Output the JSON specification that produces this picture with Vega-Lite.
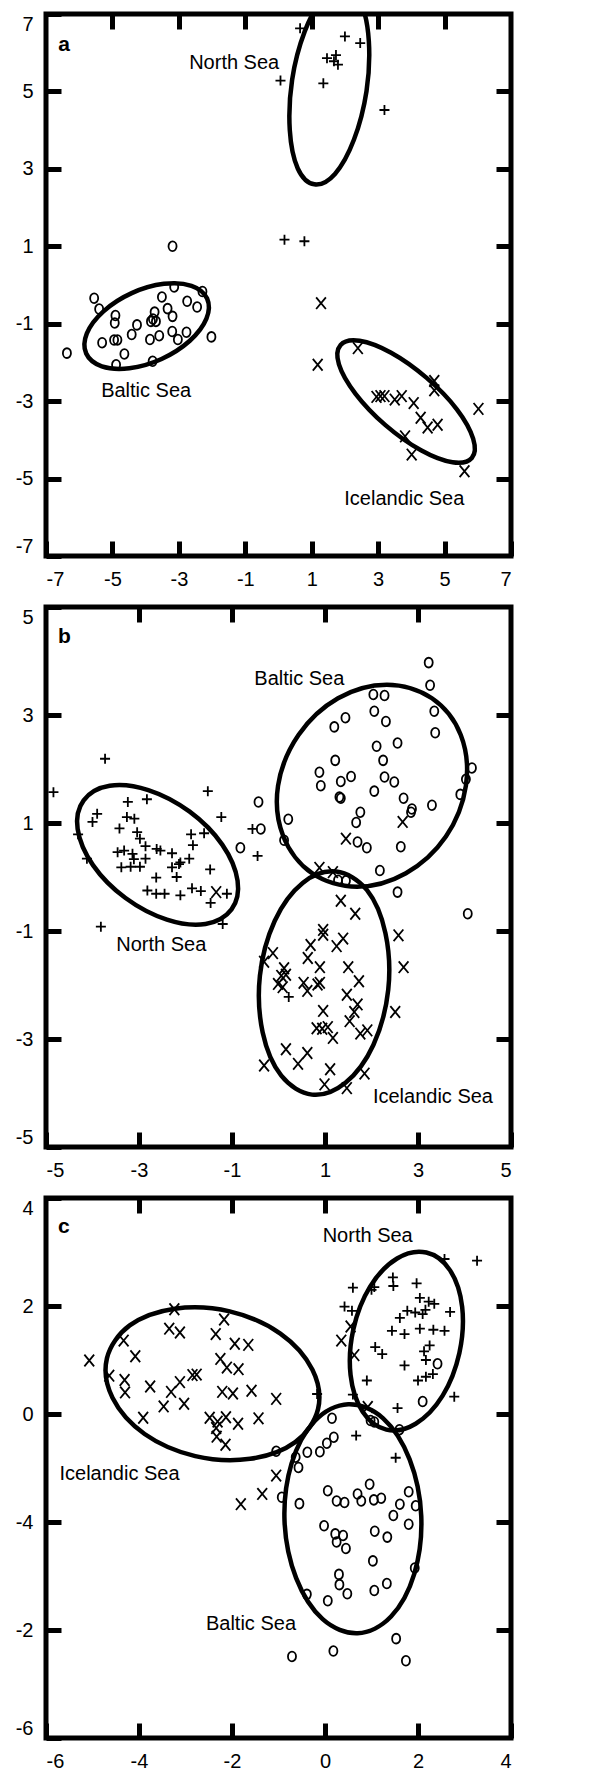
{
"$schema":"https://vega.github.io/schema/vega-lite/v6.json",
"padding":{"left":12,"top":9,"right":10,"bottom":4},
"spacing":51,
"bounds":"flush",
"config":{"view":{"stroke":"black","strokeWidth":5},
"axis":{"domain":false,"grid":false,"labelFont":"Liberation Sans","labelFontSize":20,"labelColor":"black","tickColor":"black","tickWidth":5,"tickSize":-15,"labelPadding":28,"labelFlush":true,"labelOverlap":false}},
"datasets":{
"pts":[
{"p":"a","s":"N","x":0.65,"y":6.63},{"p":"a","s":"N","x":2.0,"y":6.42},{"p":"a","s":"N","x":2.46,"y":6.25},{"p":"a","s":"N","x":1.46,"y":5.86},{"p":"a","s":"N","x":1.73,"y":5.94},{"p":"a","s":"N","x":1.79,"y":5.69},{"p":"a","s":"N","x":1.67,"y":5.78},{"p":"a","s":"N","x":0.06,"y":5.28},{"p":"a","s":"N","x":1.35,"y":5.21},{"p":"a","s":"N","x":3.19,"y":4.52},{"p":"a","s":"N","x":0.18,"y":1.17},{"p":"a","s":"N","x":0.78,"y":1.13},
{"p":"a","s":"B","x":-3.19,"y":1.0},{"p":"a","s":"B","x":-5.55,"y":-0.34},{"p":"a","s":"B","x":-5.4,"y":-0.62},{"p":"a","s":"B","x":-3.14,"y":-0.05},{"p":"a","s":"B","x":-3.51,"y":-0.31},{"p":"a","s":"B","x":-2.29,"y":-0.17},{"p":"a","s":"B","x":-2.75,"y":-0.42},{"p":"a","s":"B","x":-2.45,"y":-0.57},{"p":"a","s":"B","x":-3.34,"y":-0.61},{"p":"a","s":"B","x":-3.19,"y":-0.81},{"p":"a","s":"B","x":-3.73,"y":-0.7},{"p":"a","s":"B","x":-3.78,"y":-0.88},{"p":"a","s":"B","x":-3.69,"y":-0.94},{"p":"a","s":"B","x":-3.84,"y":-0.94},{"p":"a","s":"B","x":-4.91,"y":-0.79},{"p":"a","s":"B","x":-4.93,"y":-0.98},{"p":"a","s":"B","x":-4.26,"y":-1.03},{"p":"a","s":"B","x":-4.42,"y":-1.28},{"p":"a","s":"B","x":-3.59,"y":-1.31},{"p":"a","s":"B","x":-3.2,"y":-1.2},{"p":"a","s":"B","x":-2.77,"y":-1.22},{"p":"a","s":"B","x":-3.03,"y":-1.41},{"p":"a","s":"B","x":-2.02,"y":-1.34},{"p":"a","s":"B","x":-3.87,"y":-1.41},{"p":"a","s":"B","x":-5.31,"y":-1.49},{"p":"a","s":"B","x":-4.95,"y":-1.42},{"p":"a","s":"B","x":-4.85,"y":-1.42},{"p":"a","s":"B","x":-6.37,"y":-1.76},{"p":"a","s":"B","x":-4.64,"y":-1.78},{"p":"a","s":"B","x":-4.89,"y":-2.06},{"p":"a","s":"B","x":-3.79,"y":-1.97},
{"p":"a","s":"I","x":1.28,"y":-0.47},{"p":"a","s":"I","x":1.18,"y":-2.06},{"p":"a","s":"I","x":2.39,"y":-1.63},{"p":"a","s":"I","x":2.95,"y":-2.89},{"p":"a","s":"I","x":3.07,"y":-2.87},{"p":"a","s":"I","x":3.19,"y":-2.87},{"p":"a","s":"I","x":3.5,"y":-2.96},{"p":"a","s":"I","x":3.71,"y":-2.87},{"p":"a","s":"I","x":4.07,"y":-3.05},{"p":"a","s":"I","x":4.69,"y":-2.48},{"p":"a","s":"I","x":4.69,"y":-2.72},{"p":"a","s":"I","x":6.02,"y":-3.2},{"p":"a","s":"I","x":4.28,"y":-3.43},{"p":"a","s":"I","x":4.49,"y":-3.68},{"p":"a","s":"I","x":4.79,"y":-3.61},{"p":"a","s":"I","x":3.81,"y":-3.91},{"p":"a","s":"I","x":4.01,"y":-4.38},{"p":"a","s":"I","x":5.6,"y":-4.81},
{"p":"b","s":"N","x":-3.73,"y":2.19},{"p":"b","s":"N","x":-4.84,"y":1.57},{"p":"b","s":"N","x":-1.52,"y":1.59},{"p":"b","s":"N","x":-3.24,"y":1.39},{"p":"b","s":"N","x":-2.83,"y":1.44},{"p":"b","s":"N","x":-3.9,"y":1.17},{"p":"b","s":"N","x":-4.0,"y":1.02},{"p":"b","s":"N","x":-3.26,"y":1.11},{"p":"b","s":"N","x":-3.1,"y":1.08},{"p":"b","s":"N","x":-1.23,"y":1.11},{"p":"b","s":"N","x":-3.42,"y":0.9},{"p":"b","s":"N","x":-3.04,"y":0.83},{"p":"b","s":"N","x":-2.98,"y":0.71},{"p":"b","s":"N","x":-4.31,"y":0.79},{"p":"b","s":"N","x":-1.88,"y":0.79},{"p":"b","s":"N","x":-1.6,"y":0.81},{"p":"b","s":"N","x":-0.56,"y":0.89},{"p":"b","s":"N","x":-1.84,"y":0.59},{"p":"b","s":"N","x":-0.45,"y":0.39},{"p":"b","s":"N","x":-2.86,"y":0.57},{"p":"b","s":"N","x":-3.46,"y":0.46},{"p":"b","s":"N","x":-3.32,"y":0.49},{"p":"b","s":"N","x":-3.14,"y":0.43},{"p":"b","s":"N","x":-3.11,"y":0.33},{"p":"b","s":"N","x":-2.86,"y":0.34},{"p":"b","s":"N","x":-2.62,"y":0.52},{"p":"b","s":"N","x":-2.54,"y":0.49},{"p":"b","s":"N","x":-2.29,"y":0.44},{"p":"b","s":"N","x":-1.92,"y":0.34},{"p":"b","s":"N","x":-2.11,"y":0.27},{"p":"b","s":"N","x":-4.12,"y":0.34},{"p":"b","s":"N","x":-3.38,"y":0.18},{"p":"b","s":"N","x":-3.18,"y":0.19},{"p":"b","s":"N","x":-2.98,"y":0.19},{"p":"b","s":"N","x":-2.29,"y":0.18},{"p":"b","s":"N","x":-2.14,"y":0.24},{"p":"b","s":"N","x":-1.47,"y":0.14},{"p":"b","s":"N","x":-2.63,"y":-0.01},{"p":"b","s":"N","x":-2.19,"y":0.0},{"p":"b","s":"N","x":-2.82,"y":-0.25},{"p":"b","s":"N","x":-2.63,"y":-0.31},{"p":"b","s":"N","x":-2.45,"y":-0.31},{"p":"b","s":"N","x":-2.11,"y":-0.34},{"p":"b","s":"N","x":-1.86,"y":-0.21},{"p":"b","s":"N","x":-1.67,"y":-0.26},{"p":"b","s":"N","x":-1.11,"y":-0.31},{"p":"b","s":"N","x":-1.46,"y":-0.48},{"p":"b","s":"N","x":-3.82,"y":-0.92},{"p":"b","s":"N","x":-1.2,"y":-0.87},{"p":"b","s":"N","x":0.22,"y":-2.22},
{"p":"b","s":"B","x":3.23,"y":3.97},{"p":"b","s":"B","x":3.26,"y":3.55},{"p":"b","s":"B","x":2.04,"y":3.38},{"p":"b","s":"B","x":2.28,"y":3.36},{"p":"b","s":"B","x":2.06,"y":3.07},{"p":"b","s":"B","x":2.31,"y":2.88},{"p":"b","s":"B","x":3.35,"y":3.07},{"p":"b","s":"B","x":3.37,"y":2.67},{"p":"b","s":"B","x":1.2,"y":2.78},{"p":"b","s":"B","x":1.44,"y":2.95},{"p":"b","s":"B","x":2.11,"y":2.42},{"p":"b","s":"B","x":2.56,"y":2.48},{"p":"b","s":"B","x":1.22,"y":2.16},{"p":"b","s":"B","x":2.25,"y":2.16},{"p":"b","s":"B","x":0.88,"y":1.94},{"p":"b","s":"B","x":0.91,"y":1.69},{"p":"b","s":"B","x":1.34,"y":1.77},{"p":"b","s":"B","x":1.56,"y":1.86},{"p":"b","s":"B","x":1.31,"y":1.48},{"p":"b","s":"B","x":1.34,"y":1.46},{"p":"b","s":"B","x":2.06,"y":1.59},{"p":"b","s":"B","x":2.28,"y":1.85},{"p":"b","s":"B","x":2.49,"y":1.76},{"p":"b","s":"B","x":2.69,"y":1.46},{"p":"b","s":"B","x":2.87,"y":1.26},{"p":"b","s":"B","x":2.85,"y":1.2},{"p":"b","s":"B","x":3.3,"y":1.33},{"p":"b","s":"B","x":4.16,"y":2.02},{"p":"b","s":"B","x":4.03,"y":1.81},{"p":"b","s":"B","x":3.91,"y":1.53},{"p":"b","s":"B","x":1.76,"y":1.2},{"p":"b","s":"B","x":1.67,"y":1.01},{"p":"b","s":"B","x":1.7,"y":0.65},{"p":"b","s":"B","x":1.9,"y":0.54},{"p":"b","s":"B","x":2.63,"y":0.56},{"p":"b","s":"B","x":2.18,"y":0.12},{"p":"b","s":"B","x":0.21,"y":1.07},{"p":"b","s":"B","x":0.12,"y":0.68},{"p":"b","s":"B","x":-0.43,"y":1.39},{"p":"b","s":"B","x":-0.38,"y":0.89},{"p":"b","s":"B","x":-0.82,"y":0.54},{"p":"b","s":"B","x":2.56,"y":-0.28},{"p":"b","s":"B","x":4.07,"y":-0.68},{"p":"b","s":"B","x":1.28,"y":-0.06},{"p":"b","s":"B","x":1.45,"y":-0.07},
{"p":"b","s":"I","x":2.67,"y":1.02},{"p":"b","s":"I","x":1.45,"y":0.71},{"p":"b","s":"I","x":0.88,"y":0.17},{"p":"b","s":"I","x":1.17,"y":0.09},{"p":"b","s":"I","x":1.34,"y":-0.44},{"p":"b","s":"I","x":1.65,"y":-0.68},{"p":"b","s":"I","x":2.58,"y":-1.08},{"p":"b","s":"I","x":2.69,"y":-1.67},{"p":"b","s":"I","x":0.96,"y":-1.07},{"p":"b","s":"I","x":0.96,"y":-0.98},{"p":"b","s":"I","x":1.39,"y":-1.14},{"p":"b","s":"I","x":1.25,"y":-1.28},{"p":"b","s":"I","x":0.69,"y":-1.26},{"p":"b","s":"I","x":0.63,"y":-1.5},{"p":"b","s":"I","x":-0.12,"y":-1.41},{"p":"b","s":"I","x":-0.31,"y":-1.57},{"p":"b","s":"I","x":0.12,"y":-1.69},{"p":"b","s":"I","x":0.06,"y":-1.83},{"p":"b","s":"I","x":0.16,"y":-1.81},{"p":"b","s":"I","x":-0.01,"y":-1.98},{"p":"b","s":"I","x":0.09,"y":-2.04},{"p":"b","s":"I","x":0.54,"y":-1.96},{"p":"b","s":"I","x":0.62,"y":-2.11},{"p":"b","s":"I","x":0.89,"y":-1.67},{"p":"b","s":"I","x":0.84,"y":-1.99},{"p":"b","s":"I","x":0.89,"y":-1.96},{"p":"b","s":"I","x":1.5,"y":-1.67},{"p":"b","s":"I","x":1.73,"y":-1.93},{"p":"b","s":"I","x":1.47,"y":-2.18},{"p":"b","s":"I","x":1.7,"y":-2.36},{"p":"b","s":"I","x":0.96,"y":-2.48},{"p":"b","s":"I","x":0.82,"y":-2.8},{"p":"b","s":"I","x":0.94,"y":-2.81},{"p":"b","s":"I","x":1.06,"y":-2.78},{"p":"b","s":"I","x":1.17,"y":-2.98},{"p":"b","s":"I","x":1.53,"y":-2.67},{"p":"b","s":"I","x":1.63,"y":-2.5},{"p":"b","s":"I","x":1.76,"y":-2.9},{"p":"b","s":"I","x":1.91,"y":-2.84},{"p":"b","s":"I","x":2.51,"y":-2.5},{"p":"b","s":"I","x":0.16,"y":-3.19},{"p":"b","s":"I","x":0.42,"y":-3.46},{"p":"b","s":"I","x":0.62,"y":-3.26},{"p":"b","s":"I","x":-0.31,"y":-3.49},{"p":"b","s":"I","x":1.11,"y":-3.56},{"p":"b","s":"I","x":0.99,"y":-3.84},{"p":"b","s":"I","x":1.47,"y":-3.91},{"p":"b","s":"I","x":1.85,"y":-3.64},{"p":"b","s":"I","x":-1.34,"y":-0.28},
{"p":"c","s":"N","x":3.27,"y":2.84},{"p":"c","s":"N","x":2.57,"y":2.87},{"p":"c","s":"N","x":1.46,"y":2.53},{"p":"c","s":"N","x":1.47,"y":2.37},{"p":"c","s":"N","x":1.97,"y":2.42},{"p":"c","s":"N","x":0.6,"y":2.34},{"p":"c","s":"N","x":1.06,"y":2.35},{"p":"c","s":"N","x":1.0,"y":2.3},{"p":"c","s":"N","x":0.42,"y":1.99},{"p":"c","s":"N","x":0.58,"y":1.91},{"p":"c","s":"N","x":2.04,"y":2.15},{"p":"c","s":"N","x":2.23,"y":2.08},{"p":"c","s":"N","x":2.35,"y":2.04},{"p":"c","s":"N","x":1.77,"y":1.91},{"p":"c","s":"N","x":1.94,"y":1.88},{"p":"c","s":"N","x":2.1,"y":1.85},{"p":"c","s":"N","x":2.16,"y":1.93},{"p":"c","s":"N","x":2.69,"y":1.89},{"p":"c","s":"N","x":1.61,"y":1.78},{"p":"c","s":"N","x":1.44,"y":1.54},{"p":"c","s":"N","x":1.71,"y":1.48},{"p":"c","s":"N","x":2.04,"y":1.58},{"p":"c","s":"N","x":2.33,"y":1.56},{"p":"c","s":"N","x":2.57,"y":1.54},{"p":"c","s":"N","x":1.08,"y":1.24},{"p":"c","s":"N","x":1.23,"y":1.11},{"p":"c","s":"N","x":2.25,"y":1.27},{"p":"c","s":"N","x":2.13,"y":1.16},{"p":"c","s":"N","x":2.17,"y":1.0},{"p":"c","s":"N","x":1.71,"y":0.9},{"p":"c","s":"N","x":0.9,"y":0.62},{"p":"c","s":"N","x":2.0,"y":0.62},{"p":"c","s":"N","x":2.17,"y":0.69},{"p":"c","s":"N","x":2.32,"y":0.74},{"p":"c","s":"N","x":2.78,"y":0.32},{"p":"c","s":"N","x":0.6,"y":0.36},{"p":"c","s":"N","x":1.56,"y":0.11},{"p":"c","s":"N","x":0.67,"y":-0.4},{"p":"c","s":"N","x":1.52,"y":-0.81},{"p":"c","s":"N","x":-0.17,"y":0.37},
{"p":"c","s":"I","x":-5.07,"y":0.99},{"p":"c","s":"I","x":-4.33,"y":1.36},{"p":"c","s":"I","x":-4.08,"y":1.07},{"p":"c","s":"I","x":-4.64,"y":0.71},{"p":"c","s":"I","x":-4.31,"y":0.63},{"p":"c","s":"I","x":-4.3,"y":0.4},{"p":"c","s":"I","x":-3.76,"y":0.51},{"p":"c","s":"I","x":-3.91,"y":-0.07},{"p":"c","s":"I","x":-3.47,"y":0.14},{"p":"c","s":"I","x":-3.31,"y":0.41},{"p":"c","s":"I","x":-3.12,"y":0.59},{"p":"c","s":"I","x":-3.03,"y":0.19},{"p":"c","s":"I","x":-3.24,"y":1.94},{"p":"c","s":"I","x":-3.35,"y":1.58},{"p":"c","s":"I","x":-3.12,"y":1.51},{"p":"c","s":"I","x":-2.35,"y":1.48},{"p":"c","s":"I","x":-2.17,"y":1.75},{"p":"c","s":"I","x":-1.94,"y":1.3},{"p":"c","s":"I","x":-1.65,"y":1.28},{"p":"c","s":"I","x":-2.25,"y":1.02},{"p":"c","s":"I","x":-2.11,"y":0.86},{"p":"c","s":"I","x":-1.86,"y":0.83},{"p":"c","s":"I","x":-2.85,"y":0.72},{"p":"c","s":"I","x":-2.76,"y":0.73},{"p":"c","s":"I","x":-2.21,"y":0.41},{"p":"c","s":"I","x":-1.98,"y":0.38},{"p":"c","s":"I","x":-1.58,"y":0.43},{"p":"c","s":"I","x":-1.05,"y":0.28},{"p":"c","s":"I","x":-2.48,"y":-0.07},{"p":"c","s":"I","x":-2.31,"y":-0.14},{"p":"c","s":"I","x":-2.13,"y":-0.06},{"p":"c","s":"I","x":-1.87,"y":-0.18},{"p":"c","s":"I","x":-1.43,"y":-0.08},{"p":"c","s":"I","x":-2.33,"y":-0.42},{"p":"c","s":"I","x":-2.14,"y":-0.57},{"p":"c","s":"I","x":-2.34,"y":-0.26},{"p":"c","s":"I","x":0.35,"y":1.36},{"p":"c","s":"I","x":0.63,"y":1.09},{"p":"c","s":"I","x":0.55,"y":1.62},{"p":"c","s":"I","x":-1.05,"y":-1.14},{"p":"c","s":"I","x":-1.35,"y":-1.48},{"p":"c","s":"I","x":-1.81,"y":-1.67},{"p":"c","s":"I","x":0.92,"y":0.13},
{"p":"c","s":"B","x":2.42,"y":0.93},{"p":"c","s":"B","x":2.1,"y":0.23},{"p":"c","s":"B","x":0.98,"y":-0.12},{"p":"c","s":"B","x":1.06,"y":-0.15},{"p":"c","s":"B","x":0.15,"y":-0.08},{"p":"c","s":"B","x":1.6,"y":-0.29},{"p":"c","s":"B","x":0.04,"y":-0.54},{"p":"c","s":"B","x":0.19,"y":-0.43},{"p":"c","s":"B","x":-0.11,"y":-0.7},{"p":"c","s":"B","x":-0.38,"y":-0.71},{"p":"c","s":"B","x":-0.63,"y":-0.8},{"p":"c","s":"B","x":-1.05,"y":-0.69},{"p":"c","s":"B","x":-0.57,"y":-0.99},{"p":"c","s":"B","x":-0.93,"y":-1.54},{"p":"c","s":"B","x":-0.55,"y":-1.66},{"p":"c","s":"B","x":0.06,"y":-1.42},{"p":"c","s":"B","x":0.25,"y":-1.61},{"p":"c","s":"B","x":0.42,"y":-1.64},{"p":"c","s":"B","x":0.7,"y":-1.48},{"p":"c","s":"B","x":0.78,"y":-1.61},{"p":"c","s":"B","x":0.96,"y":-1.3},{"p":"c","s":"B","x":1.05,"y":-1.59},{"p":"c","s":"B","x":1.21,"y":-1.56},{"p":"c","s":"B","x":1.8,"y":-1.44},{"p":"c","s":"B","x":1.95,"y":-1.7},{"p":"c","s":"B","x":1.61,"y":-1.67},{"p":"c","s":"B","x":1.47,"y":-1.88},{"p":"c","s":"B","x":1.8,"y":-2.04},{"p":"c","s":"B","x":-0.02,"y":-2.07},{"p":"c","s":"B","x":0.22,"y":-2.22},{"p":"c","s":"B","x":0.39,"y":-2.25},{"p":"c","s":"B","x":0.25,"y":-2.37},{"p":"c","s":"B","x":0.45,"y":-2.49},{"p":"c","s":"B","x":1.07,"y":-2.17},{"p":"c","s":"B","x":1.34,"y":-2.28},{"p":"c","s":"B","x":1.03,"y":-2.72},{"p":"c","s":"B","x":1.93,"y":-2.85},{"p":"c","s":"B","x":0.3,"y":-2.97},{"p":"c","s":"B","x":0.31,"y":-3.16},{"p":"c","s":"B","x":0.48,"y":-3.33},{"p":"c","s":"B","x":1.33,"y":-3.14},{"p":"c","s":"B","x":1.06,"y":-3.27},{"p":"c","s":"B","x":-0.39,"y":-3.34},{"p":"c","s":"B","x":0.06,"y":-3.46},{"p":"c","s":"B","x":1.53,"y":-4.16},{"p":"c","s":"B","x":0.18,"y":-4.39},{"p":"c","s":"B","x":-0.71,"y":-4.49},{"p":"c","s":"B","x":1.74,"y":-4.57}
],
"ell":[
{"p":"a","e":"N","o":0,"x":1.98,"y":7.7},{"p":"a","e":"N","o":1,"x":2.48,"y":7.29},{"p":"a","e":"N","o":2,"x":2.72,"y":6.3},{"p":"a","e":"N","o":3,"x":2.65,"y":5.01},{"p":"a","e":"N","o":4,"x":2.27,"y":3.75},{"p":"a","e":"N","o":5,"x":1.7,"y":2.87},{"p":"a","e":"N","o":6,"x":1.08,"y":2.6},{"p":"a","e":"N","o":7,"x":0.58,"y":3.01},{"p":"a","e":"N","o":8,"x":0.34,"y":4.0},{"p":"a","e":"N","o":9,"x":0.41,"y":5.3},{"p":"a","e":"N","o":10,"x":0.79,"y":6.55},{"p":"a","e":"N","o":11,"x":1.36,"y":7.43},
{"p":"a","e":"B","o":0,"x":-2.15,"y":-0.35},{"p":"a","e":"B","o":1,"x":-2.17,"y":-0.87},{"p":"a","e":"B","o":2,"x":-2.67,"y":-1.44},{"p":"a","e":"B","o":3,"x":-3.52,"y":-1.91},{"p":"a","e":"B","o":4,"x":-4.49,"y":-2.15},{"p":"a","e":"B","o":5,"x":-5.32,"y":-2.1},{"p":"a","e":"B","o":6,"x":-5.79,"y":-1.77},{"p":"a","e":"B","o":7,"x":-5.77,"y":-1.25},{"p":"a","e":"B","o":8,"x":-5.27,"y":-0.68},{"p":"a","e":"B","o":9,"x":-4.42,"y":-0.21},{"p":"a","e":"B","o":10,"x":-3.45,"y":0.03},{"p":"a","e":"B","o":11,"x":-2.62,"y":-0.02},
{"p":"a","e":"I","o":0,"x":5.82,"y":-4.47},{"p":"a","e":"I","o":1,"x":5.24,"y":-4.58},{"p":"a","e":"I","o":2,"x":4.29,"y":-4.27},{"p":"a","e":"I","o":3,"x":3.22,"y":-3.62},{"p":"a","e":"I","o":4,"x":2.32,"y":-2.81},{"p":"a","e":"I","o":5,"x":1.82,"y":-2.05},{"p":"a","e":"I","o":6,"x":1.87,"y":-1.55},{"p":"a","e":"I","o":7,"x":2.44,"y":-1.44},{"p":"a","e":"I","o":8,"x":3.39,"y":-1.75},{"p":"a","e":"I","o":9,"x":4.46,"y":-2.4},{"p":"a","e":"I","o":10,"x":5.37,"y":-3.21},{"p":"a","e":"I","o":11,"x":5.86,"y":-3.97},
{"p":"b","e":"N","o":0,"x":-1.01,"y":-0.6},{"p":"b","e":"N","o":1,"x":-1.57,"y":-0.87},{"p":"b","e":"N","o":2,"x":-2.4,"y":-0.79},{"p":"b","e":"N","o":3,"x":-3.29,"y":-0.39},{"p":"b","e":"N","o":4,"x":-3.99,"y":0.22},{"p":"b","e":"N","o":5,"x":-4.32,"y":0.89},{"p":"b","e":"N","o":6,"x":-4.19,"y":1.42},{"p":"b","e":"N","o":7,"x":-3.63,"y":1.69},{"p":"b","e":"N","o":8,"x":-2.8,"y":1.61},{"p":"b","e":"N","o":9,"x":-1.91,"y":1.21},{"p":"b","e":"N","o":10,"x":-1.21,"y":0.6},{"p":"b","e":"N","o":11,"x":-0.88,"y":-0.07},
{"p":"b","e":"B","o":0,"x":3.3,"y":3.31},{"p":"b","e":"B","o":1,"x":3.92,"y":2.63},{"p":"b","e":"B","o":2,"x":4.03,"y":1.69},{"p":"b","e":"B","o":3,"x":3.6,"y":0.75},{"p":"b","e":"B","o":4,"x":2.74,"y":0.07},{"p":"b","e":"B","o":5,"x":1.69,"y":-0.18},{"p":"b","e":"B","o":6,"x":0.72,"y":0.07},{"p":"b","e":"B","o":7,"x":0.1,"y":0.76},{"p":"b","e":"B","o":8,"x":-0.01,"y":1.69},{"p":"b","e":"B","o":9,"x":0.43,"y":2.63},{"p":"b","e":"B","o":10,"x":1.28,"y":3.31},{"p":"b","e":"B","o":11,"x":2.33,"y":3.56},
{"p":"b","e":"I","o":0,"x":1.24,"y":0.1},{"p":"b","e":"I","o":1,"x":1.9,"y":-0.24},{"p":"b","e":"I","o":2,"x":2.3,"y":-1.04},{"p":"b","e":"I","o":3,"x":2.36,"y":-2.09},{"p":"b","e":"I","o":4,"x":2.04,"y":-3.11},{"p":"b","e":"I","o":5,"x":1.44,"y":-3.81},{"p":"b","e":"I","o":6,"x":0.72,"y":-4.03},{"p":"b","e":"I","o":7,"x":0.06,"y":-3.68},{"p":"b","e":"I","o":8,"x":-0.34,"y":-2.88},{"p":"b","e":"I","o":9,"x":-0.4,"y":-1.83},{"p":"b","e":"I","o":10,"x":-0.08,"y":-0.81},{"p":"b","e":"I","o":11,"x":0.52,"y":-0.11},
{"p":"c","e":"I","o":0,"x":-0.15,"y":0.09},{"p":"c","e":"I","o":1,"x":-0.64,"y":-0.52},{"p":"c","e":"I","o":2,"x":-1.61,"y":-0.83},{"p":"c","e":"I","o":3,"x":-2.79,"y":-0.78},{"p":"c","e":"I","o":4,"x":-3.88,"y":-0.37},{"p":"c","e":"I","o":5,"x":-4.57,"y":0.3},{"p":"c","e":"I","o":6,"x":-4.69,"y":1.03},{"p":"c","e":"I","o":7,"x":-4.2,"y":1.64},{"p":"c","e":"I","o":8,"x":-3.23,"y":1.95},{"p":"c","e":"I","o":9,"x":-2.05,"y":1.9},{"p":"c","e":"I","o":10,"x":-0.96,"y":1.49},{"p":"c","e":"I","o":11,"x":-0.27,"y":0.82},
{"p":"c","e":"N","o":0,"x":2.18,"y":2.99},{"p":"c","e":"N","o":1,"x":2.69,"y":2.66},{"p":"c","e":"N","o":2,"x":2.95,"y":1.98},{"p":"c","e":"N","o":3,"x":2.89,"y":1.13},{"p":"c","e":"N","o":4,"x":2.53,"y":0.34},{"p":"c","e":"N","o":5,"x":1.95,"y":-0.18},{"p":"c","e":"N","o":6,"x":1.32,"y":-0.29},{"p":"c","e":"N","o":7,"x":0.81,"y":0.04},{"p":"c","e":"N","o":8,"x":0.55,"y":0.72},{"p":"c","e":"N","o":9,"x":0.61,"y":1.57},{"p":"c","e":"N","o":10,"x":0.97,"y":2.36},{"p":"c","e":"N","o":11,"x":1.55,"y":2.88},
{"p":"c","e":"B","o":0,"x":0.5,"y":0.18},{"p":"c","e":"B","o":1,"x":1.25,"y":-0.08},{"p":"c","e":"B","o":2,"x":1.82,"y":-0.84},{"p":"c","e":"B","o":3,"x":2.07,"y":-1.89},{"p":"c","e":"B","o":4,"x":1.92,"y":-2.96},{"p":"c","e":"B","o":5,"x":1.42,"y":-3.75},{"p":"c","e":"B","o":6,"x":0.7,"y":-4.06},{"p":"c","e":"B","o":7,"x":-0.05,"y":-3.8},{"p":"c","e":"B","o":8,"x":-0.62,"y":-3.04},{"p":"c","e":"B","o":9,"x":-0.87,"y":-1.99},{"p":"c","e":"B","o":10,"x":-0.72,"y":-0.92},{"p":"c","e":"B","o":11,"x":-0.22,"y":-0.13}
],
"lab":[
{"p":"a","x":-2.69,"y":5.73,"t":"North Sea"},{"p":"a","x":-5.34,"y":-2.74,"t":"Baltic Sea"},{"p":"a","x":1.98,"y":-5.54,"t":"Icelandic Sea"},
{"p":"b","x":-0.52,"y":3.66,"t":"Baltic Sea"},{"p":"b","x":-3.49,"y":-1.26,"t":"North Sea"},{"p":"b","x":2.03,"y":-4.07,"t":"Icelandic Sea"},
{"p":"c","x":-0.05,"y":3.3,"t":"North Sea"},{"p":"c","x":-5.71,"y":-1.11,"t":"Icelandic Sea"},{"p":"c","x":-2.56,"y":-3.89,"t":"Baltic Sea"}
],
"let":[
{"p":"a","x":-6.63,"y":6.2,"t":"a"},{"p":"b","x":-4.74,"y":4.44,"t":"b"},{"p":"c","x":-5.74,"y":3.46,"t":"c"}
]
},
"vconcat":[
{"width":465,"height":542,"layer":[
{"data":{"name":"pts"},"transform":[{"filter":"datum.p=='a'"}],"mark":{"type":"point","filled":false,"strokeWidth":1.8,"color":"black","size":169,"opacity":1},
"encoding":{"x":{"field":"x","type":"quantitative","scale":{"domain":[-7,7],"nice":false,"zero":false},"axis":{"orient":"bottom","title":null,"values":[-7,-5,-3,-1,1,3,5,7],"labelExpr":"''+datum.value"}},
"y":{"field":"y","type":"quantitative","scale":{"domain":[-7,7],"nice":false,"zero":false},"axis":{"orient":"left","title":null,"values":[-7,-5,-3,-1,1,3,5,7],"labelExpr":"''+datum.value"}},
"shape":{"field":"s","type":"nominal","scale":{"domain":["B","N","I"],"range":["M0,-0.75C0.342,-0.75,0.62,-0.414,0.62,0C0.62,0.414,0.342,0.75,0,0.75C-0.342,0.75,-0.62,0.414,-0.62,0C-0.62,-0.414,-0.342,-0.75,0,-0.75Z","M-0.77,0L0.77,0M0,-0.77L0,0.77","M-0.75,-0.9L0.75,0.9M-0.75,0.9L0.75,-0.9"]},"legend":null}}},
{"data":{"name":"ell"},"transform":[{"filter":"datum.p=='a'"}],"mark":{"type":"line","interpolate":"cardinal-closed","strokeWidth":4.5,"color":"black","clip":true},
"encoding":{"x":{"field":"x","type":"quantitative","scale":{"domain":[-7,7],"nice":false,"zero":false},"axis":{"orient":"top","title":null,"labels":false,"values":[-5,-3,-1,1,3,5]}},
"y":{"field":"y","type":"quantitative","scale":{"domain":[-7,7],"nice":false,"zero":false},"axis":{"orient":"right","title":null,"labels":false,"values":[-5,-3,-1,1,3,5]}},
"detail":{"field":"e"},"order":{"field":"o","type":"quantitative"}}},
{"data":{"name":"lab"},"transform":[{"filter":"datum.p=='a'"}],"mark":{"type":"text","align":"left","baseline":"middle","font":"Liberation Sans","fontSize":20,"color":"black"},
"encoding":{"x":{"field":"x","type":"quantitative","axis":null},"y":{"field":"y","type":"quantitative","axis":null},"text":{"field":"t"}}},
{"data":{"name":"let"},"transform":[{"filter":"datum.p=='a'"}],"mark":{"type":"text","align":"left","baseline":"middle","font":"Liberation Sans","fontSize":21,"fontWeight":"bold","color":"black"},
"encoding":{"x":{"field":"x","type":"quantitative","axis":null},"y":{"field":"y","type":"quantitative","axis":null},"text":{"field":"t"}}}
]},
{"width":465,"height":540,"layer":[
{"data":{"name":"pts"},"transform":[{"filter":"datum.p=='b'"}],"mark":{"type":"point","filled":false,"strokeWidth":1.8,"color":"black","size":169,"opacity":1},
"encoding":{"x":{"field":"x","type":"quantitative","scale":{"domain":[-5,5],"nice":false,"zero":false},"axis":{"orient":"bottom","title":null,"values":[-5,-3,-1,1,3,5],"labelExpr":"''+datum.value"}},
"y":{"field":"y","type":"quantitative","scale":{"domain":[-5,5],"nice":false,"zero":false},"axis":{"orient":"left","title":null,"values":[-5,-3,-1,1,3,5],"labelExpr":"''+datum.value"}},
"shape":{"field":"s","type":"nominal","scale":{"domain":["B","N","I"],"range":["M0,-0.75C0.342,-0.75,0.62,-0.414,0.62,0C0.62,0.414,0.342,0.75,0,0.75C-0.342,0.75,-0.62,0.414,-0.62,0C-0.62,-0.414,-0.342,-0.75,0,-0.75Z","M-0.77,0L0.77,0M0,-0.77L0,0.77","M-0.75,-0.9L0.75,0.9M-0.75,0.9L0.75,-0.9"]},"legend":null}}},
{"data":{"name":"ell"},"transform":[{"filter":"datum.p=='b'"}],"mark":{"type":"line","interpolate":"cardinal-closed","strokeWidth":4.5,"color":"black","clip":true},
"encoding":{"x":{"field":"x","type":"quantitative","scale":{"domain":[-5,5],"nice":false,"zero":false},"axis":{"orient":"top","title":null,"labels":false,"values":[-3,-1,1,3]}},
"y":{"field":"y","type":"quantitative","scale":{"domain":[-5,5],"nice":false,"zero":false},"axis":{"orient":"right","title":null,"labels":false,"values":[-3,-1,1,3]}},
"detail":{"field":"e"},"order":{"field":"o","type":"quantitative"}}},
{"data":{"name":"lab"},"transform":[{"filter":"datum.p=='b'"}],"mark":{"type":"text","align":"left","baseline":"middle","font":"Liberation Sans","fontSize":20,"color":"black"},
"encoding":{"x":{"field":"x","type":"quantitative","axis":null},"y":{"field":"y","type":"quantitative","axis":null},"text":{"field":"t"}}},
{"data":{"name":"let"},"transform":[{"filter":"datum.p=='b'"}],"mark":{"type":"text","align":"left","baseline":"middle","font":"Liberation Sans","fontSize":21,"fontWeight":"bold","color":"black"},
"encoding":{"x":{"field":"x","type":"quantitative","axis":null},"y":{"field":"y","type":"quantitative","axis":null},"text":{"field":"t"}}}
]},
{"width":465,"height":540,"layer":[
{"data":{"name":"pts"},"transform":[{"filter":"datum.p=='c'"}],"mark":{"type":"point","filled":false,"strokeWidth":1.8,"color":"black","size":169,"opacity":1},
"encoding":{"x":{"field":"x","type":"quantitative","scale":{"domain":[-6,4],"nice":false,"zero":false},"axis":{"orient":"bottom","title":null,"values":[-6,-4,-2,0,2,4],"labelExpr":"''+datum.value"}},
"y":{"field":"y","type":"quantitative","scale":{"domain":[-6,4],"nice":false,"zero":false},"axis":{"orient":"left","title":null,"values":[-6,-4,-2,0,2,4],"labelExpr":"datum.value==-2?'-4':datum.value==-4?'-2':''+datum.value"}},
"shape":{"field":"s","type":"nominal","scale":{"domain":["B","N","I"],"range":["M0,-0.75C0.342,-0.75,0.62,-0.414,0.62,0C0.62,0.414,0.342,0.75,0,0.75C-0.342,0.75,-0.62,0.414,-0.62,0C-0.62,-0.414,-0.342,-0.75,0,-0.75Z","M-0.77,0L0.77,0M0,-0.77L0,0.77","M-0.75,-0.9L0.75,0.9M-0.75,0.9L0.75,-0.9"]},"legend":null}}},
{"data":{"name":"ell"},"transform":[{"filter":"datum.p=='c'"}],"mark":{"type":"line","interpolate":"cardinal-closed","strokeWidth":4.5,"color":"black","clip":true},
"encoding":{"x":{"field":"x","type":"quantitative","scale":{"domain":[-6,4],"nice":false,"zero":false},"axis":{"orient":"top","title":null,"labels":false,"values":[-4,-2,0,2]}},
"y":{"field":"y","type":"quantitative","scale":{"domain":[-6,4],"nice":false,"zero":false},"axis":{"orient":"right","title":null,"labels":false,"values":[-4,-2,0,2]}},
"detail":{"field":"e"},"order":{"field":"o","type":"quantitative"}}},
{"data":{"name":"lab"},"transform":[{"filter":"datum.p=='c'"}],"mark":{"type":"text","align":"left","baseline":"middle","font":"Liberation Sans","fontSize":20,"color":"black"},
"encoding":{"x":{"field":"x","type":"quantitative","axis":null},"y":{"field":"y","type":"quantitative","axis":null},"text":{"field":"t"}}},
{"data":{"name":"let"},"transform":[{"filter":"datum.p=='c'"}],"mark":{"type":"text","align":"left","baseline":"middle","font":"Liberation Sans","fontSize":21,"fontWeight":"bold","color":"black"},
"encoding":{"x":{"field":"x","type":"quantitative","axis":null},"y":{"field":"y","type":"quantitative","axis":null},"text":{"field":"t"}}}
]}
]
}
